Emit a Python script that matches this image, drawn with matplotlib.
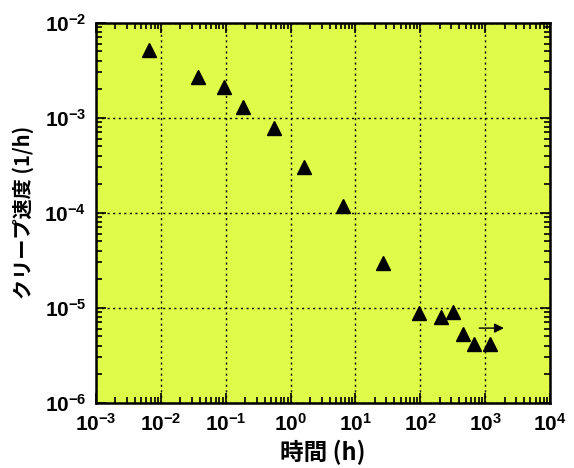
#!/usr/bin/env python3
"""Creep rate vs time (log-log), black triangles on yellow-green background."""
import matplotlib
matplotlib.use("Agg")
import matplotlib.pyplot as plt
from matplotlib.ticker import LogLocator, NullFormatter

# data
time_h = [6.6e-3, 0.037, 0.095, 0.185, 0.55, 1.63, 6.35, 26.9,
          97, 208, 323, 460, 681, 1190]
creep_rate = [5.1e-3, 2.7e-3, 2.1e-3, 1.3e-3, 7.7e-4, 3.05e-4, 1.19e-4, 2.98e-5,
              8.9e-6, 8.0e-6, 8.95e-6, 5.25e-6, 4.2e-6, 4.1e-6]
arrow_x = [810, 1950]
arrow_y = 6.1e-6

plt.rcParams["font.family"] = ["Liberation Sans", "Noto Sans CJK JP", "DejaVu Sans"]
plt.rcParams["font.weight"] = "bold"
plt.rcParams["mathtext.fontset"] = "custom"
plt.rcParams["mathtext.rm"] = "Liberation Sans:bold"
plt.rcParams["mathtext.bf"] = "Liberation Sans:bold"


def main():
    fig = plt.figure(figsize=(5.74, 4.68), dpi=100)
    ax = fig.add_axes([0.1672, 0.1395, 0.7910, 0.8120])
    ax.set_facecolor("#e0fa4a")

    ax.plot(time_h, creep_rate, linestyle="none", marker="^",
            markersize=10.5, color="black", zorder=3)
    ax.annotate("", xy=(arrow_x[1], arrow_y), xytext=(arrow_x[0], arrow_y),
                arrowprops=dict(arrowstyle="-|>", color="black", lw=1,
                                mutation_scale=14, shrinkA=0, shrinkB=0))

    ax.set_xscale("log")
    ax.set_yscale("log")
    ax.set_xlim(1e-3, 1e4)
    ax.set_ylim(1e-6, 1e-2)
    ax.xaxis.set_major_locator(LogLocator(base=10, numticks=20))
    ax.yaxis.set_major_locator(LogLocator(base=10, numticks=20))
    ax.xaxis.set_minor_locator(LogLocator(base=10, subs=range(2, 10), numticks=20))
    ax.yaxis.set_minor_locator(LogLocator(base=10, subs=range(2, 10), numticks=20))
    ax.xaxis.set_minor_formatter(NullFormatter())
    ax.yaxis.set_minor_formatter(NullFormatter())

    ax.tick_params(which="both", direction="in", top=True, right=True,
                   labelsize=15, width=1.2)
    ax.tick_params(which="major", length=7, pad=7)
    ax.tick_params(which="minor", length=4)
    for sp in ax.spines.values():
        sp.set_linewidth(1.8)

    ax.grid(True, which="major", linestyle=(0, (1.5, 2.5)), color="black", lw=1)

    ax.set_xlabel("時間 (h)", fontsize=17, fontweight="bold", labelpad=4,
                  family=["Noto Sans CJK JP", "DejaVu Sans"])
    ax.set_ylabel("クリープ速度 (1/h)", fontsize=14.5, fontweight="bold", labelpad=7,
                  family=["Noto Sans CJK JP", "DejaVu Sans"])

    fig.savefig("out.png", dpi=100)
    plt.close(fig)


if __name__ == "__main__":
    main()
